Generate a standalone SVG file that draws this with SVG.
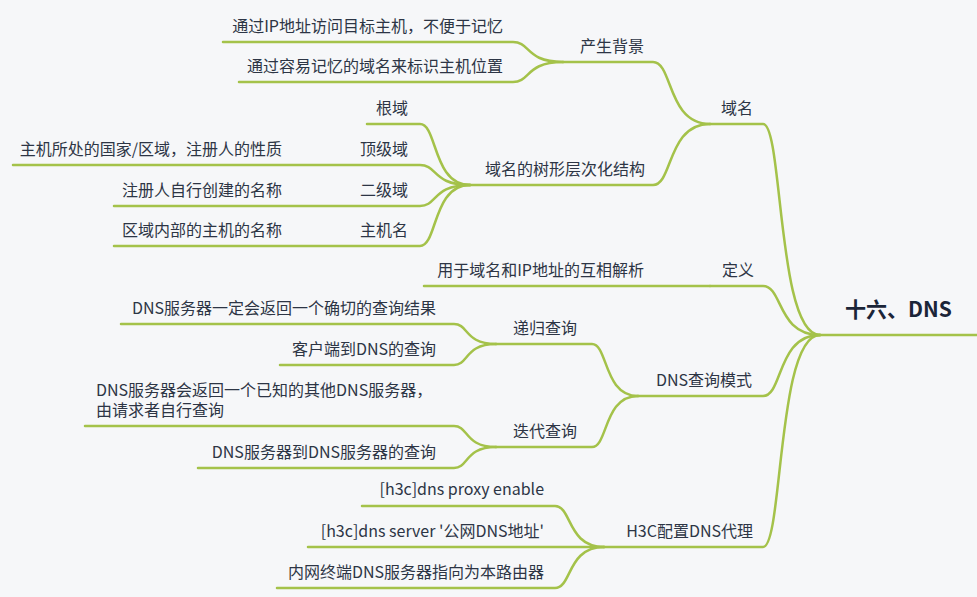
<svg xmlns="http://www.w3.org/2000/svg" width="977" height="597" viewBox="0 0 977 597">
<style>
.bg{fill:#f6f7f9}
.ln{fill:none;stroke:#a4c24a;stroke-width:2.5;stroke-linecap:round}
text{font-family:"Noto Sans CJK SC","Noto Sans",sans-serif;font-size:16px;fill:#2d3545}
.e{text-anchor:end}
.root{font-size:21px;font-weight:bold;fill:#1b2538}
</style>
<rect class="bg" x="0" y="0" width="977" height="597"/>
<g id="connectors">
<path class="ln" d="M820,335 H977"/>
<path class="ln" d="M710,124 H763 C783,124 777,335 820,335"/>
<path class="ln" d="M710,286 H763 C783,286 777,335 820,335"/>
<path class="ln" d="M638,396 H763 C783,396 777,335 820,335"/>
<path class="ln" d="M604,547 H763 C783,547 777,335 820,335"/>
<path class="ln" d="M563,62 H653 C673,62 667,124 710,124"/>
<path class="ln" d="M470,185 H653 C673,185 667,124 710,124"/>
<path class="ln" d="M223,42 H513 C530.5,42 525.5,62 563,62"/>
<path class="ln" d="M239,82 H513 C530.5,82 525.5,62 563,62"/>
<path class="ln" d="M367,124 H420 C437.5,124 432.5,185 470,185"/>
<path class="ln" d="M13,165 H420 C437.5,165 432.5,185 470,185"/>
<path class="ln" d="M114,206 H420 C437.5,206 432.5,185 470,185"/>
<path class="ln" d="M114,246 H420 C437.5,246 432.5,185 470,185"/>
<path class="ln" d="M424,286 H710"/>
<path class="ln" d="M496,344 H592 C608,344 603.5,396 638,396"/>
<path class="ln" d="M496,447 H592 C608,447 603.5,396 638,396"/>
<path class="ln" d="M121,324 H454 C468.7,324 464.5,344 496,344"/>
<path class="ln" d="M280,365 H454 C468.7,365 464.5,344 496,344"/>
<path class="ln" d="M85,426 H454 C468.7,426 464.5,447 496,447"/>
<path class="ln" d="M198,468 H454 C468.7,468 464.5,447 496,447"/>
<path class="ln" d="M362,506 H555 C572,506 567,547 604,547"/>
<path class="ln" d="M308,547 H604"/>
<path class="ln" d="M277,588 H555 C572,588 567,547 604,547"/>
</g>
<g id="root"><text class="root" x="845" y="317">十六、DNS</text></g>
<g id="n-yuming"><text class="e" x="753" y="114">域名</text></g>
<g id="n-bg"><text class="e" x="644" y="52">产生背景</text></g>
<g id="n-bg1"><text class="e" x="503" y="32">通过IP地址访问目标主机，不便于记忆</text></g>
<g id="n-bg2"><text class="e" x="503" y="72">通过容易记忆的域名来标识主机位置</text></g>
<g id="n-tree"><text class="e" x="645" y="175">域名的树形层次化结构</text></g>
<g id="n-root-domain"><text class="e" x="408" y="114">根域</text></g>
<g id="n-tld"><text class="e" x="408" y="155">顶级域</text></g>
<g id="n-tld1"><text class="e" x="282" y="155">主机所处的国家/区域，注册人的性质</text></g>
<g id="n-sld"><text class="e" x="408" y="196">二级域</text></g>
<g id="n-sld1"><text class="e" x="282" y="196">注册人自行创建的名称</text></g>
<g id="n-host"><text class="e" x="408" y="236">主机名</text></g>
<g id="n-host1"><text class="e" x="282" y="236">区域内部的主机的名称</text></g>
<g id="n-def"><text class="e" x="754" y="276">定义</text></g>
<g id="n-def1"><text class="e" x="644" y="276">用于域名和IP地址的互相解析</text></g>
<g id="n-mode"><text class="e" x="752" y="386">DNS查询模式</text></g>
<g id="n-rec"><text class="e" x="577" y="334">递归查询</text></g>
<g id="n-rec1"><text class="e" x="436" y="314">DNS服务器一定会返回一个确切的查询结果</text></g>
<g id="n-rec2"><text class="e" x="436" y="355">客户端到DNS的查询</text></g>
<g id="n-iter"><text class="e" x="577" y="437">迭代查询</text></g>
<g id="n-iter1"><text x="96" y="396">DNS服务器会返回一个已知的其他DNS服务器，<tspan x="96" dy="20">由请求者自行查询</tspan></text></g>
<g id="n-iter2"><text class="e" x="436" y="458">DNS服务器到DNS服务器的查询</text></g>
<g id="n-h3c"><text class="e" x="753" y="537">H3C配置DNS代理</text></g>
<g id="n-h3c1"><text class="e" x="544" y="495">[h3c]dns proxy enable</text></g>
<g id="n-h3c2"><text class="e" x="544" y="537">[h3c]dns server '公网DNS地址'</text></g>
<g id="n-h3c3"><text class="e" x="544" y="578">内网终端DNS服务器指向为本路由器</text></g>
</svg>
